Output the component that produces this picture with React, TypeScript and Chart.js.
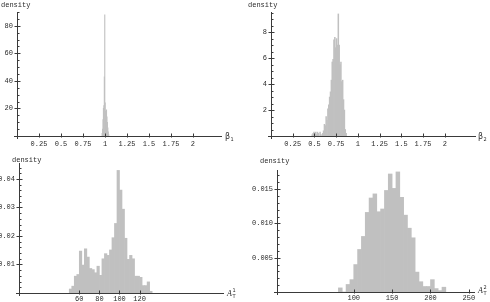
import React, { useEffect, useRef } from "react";
import { Chart, registerables } from "chart.js";

Chart.register(...registerables);

// ---------- Panel 1: beta_1 ----------
const beta1BinCenters = [0.9675, 0.9725, 0.9775, 0.9825, 0.9875, 0.9925, 0.9975, 1.0025, 1.0075, 1.0125, 1.0175, 1.0225, 1.0275, 1.0325, 1.0375, 1.0425];
const beta1Density = [2, 5, 12, 20, 22, 43, 88, 24, 18, 12, 19, 14, 10, 6, 3, 1];
const beta1XTicks = [0.25, 0.5, 0.75, 1, 1.25, 1.5, 1.75, 2];
const beta1XTickLabels = ["0.25", "0.5", "0.75", "1", "1.25", "1.5", "1.75", "2"];
const beta1YTicks = [20, 40, 60, 80];
const beta1YTickLabels = ["20", "40", "60", "80"];

// ---------- Panel 2: beta_2 ----------
const beta2BinCenters = [0.475, 0.485, 0.495, 0.505, 0.515, 0.525, 0.535, 0.545, 0.555, 0.565, 0.575, 0.585, 0.595, 0.605, 0.615, 0.625, 0.635, 0.645, 0.655, 0.665, 0.675, 0.685, 0.695, 0.705, 0.715, 0.725, 0.735, 0.745, 0.755, 0.765, 0.775, 0.785, 0.795, 0.805, 0.815, 0.825, 0.835, 0.845, 0.855, 0.865];
const beta2Density = [0.1, 0.2, 0.3, 0.2, 0.3, 0.1, 0.3, 0.2, 0.0, 0.3, 0.1, 0.0, 0.2, 0.4, 0.9, 0.8, 1.5, 1.2, 2.1, 2.4, 3.0, 3.4, 4.3, 5.7, 5.9, 7.4, 7.6, 6.8, 7.5, 7.0, 9.4, 7.0, 5.5, 5.7, 4.2, 4.3, 2.8, 2.0, 0.5, 0.2];
const beta2XTicks = [0.25, 0.5, 0.75, 1, 1.25, 1.5, 1.75, 2];
const beta2XTickLabels = ["0.25", "0.5", "0.75", "1", "1.25", "1.5", "1.75", "2"];
const beta2YTicks = [2, 4, 6, 8];
const beta2YTickLabels = ["2", "4", "6", "8"];

// ---------- Panel 3: A_T^1 ----------
const a1BinCenters = [51.25, 53.75, 56.25, 58.75, 61.25, 63.75, 66.25, 68.75, 71.25, 73.75, 76.25, 78.75, 81.25, 83.75, 86.25, 88.75, 91.25, 93.75, 96.25, 98.75, 101.25, 103.75, 106.25, 108.75, 111.25, 113.75, 116.25, 118.75, 121.25, 123.75, 126.25, 128.75, 131.25];
const a1Density = [0.0014, 0.0024, 0.0059, 0.0065, 0.0147, 0.0098, 0.0155, 0.0126, 0.0086, 0.0082, 0.0071, 0.0094, 0.0062, 0.012, 0.0138, 0.0132, 0.0151, 0.0194, 0.0244, 0.043, 0.0361, 0.0294, 0.0192, 0.0118, 0.0132, 0.012, 0.0059, 0.0059, 0.0055, 0.0026, 0.0026, 0.0039, 0.0006];
const a1XTicks = [60, 80, 100, 120];
const a1XTickLabels = ["60", "80", "100", "120"];
const a1YTicks = [0.01, 0.02, 0.03, 0.04];
const a1YTickLabels = ["0.01", "0.02", "0.03", "0.04"];

// ---------- Panel 4: A_T^2 ----------
const a2BinCenters = [82.5, 87.5, 92.5, 97.5, 102.5, 107.5, 112.5, 117.5, 122.5, 127.5, 132.5, 137.5, 142.5, 147.5, 152.5, 157.5, 162.5, 167.5, 172.5, 177.5, 182.5, 187.5, 192.5, 197.5, 202.5, 207.5, 212.5, 217.5];
const a2Density = [0.0006, 0, 0.0011, 0.0018, 0.004, 0.0062, 0.0081, 0.0116, 0.0137, 0.0143, 0.0117, 0.0121, 0.0148, 0.0172, 0.0151, 0.0175, 0.0138, 0.0112, 0.0093, 0.0079, 0.0029, 0.0015, 0.0008, 0.0008, 0.0018, 0.0005, 0.0002, 0.0007];
const a2XTicks = [100, 150, 200, 250];
const a2XTickLabels = ["100", "150", "200", "250"];
const a2YTicks = [0.005, 0.01, 0.015];
const a2YTickLabels = ["0.005", "0.010", "0.015"];

const FILL = "#c0c0c0";
const AXIS = "#3a3a3a";
const TEXT = "#2a2a2a";
const MONO = '"Liberation Mono", "DejaVu Sans Mono", monospace';

type Panel = {
  centers: number[];
  values: number[];
  xTicks: number[];
  xLabels: string[];
  yTicks: number[];
  yLabels: string[];
  xMax: number;
  yMax: number;
  yMinor: number;
  xLabelPad: number;
  pos: { left: number; top: number };
  area: { left: number; right: number; top: number; bottom: number };
  density: { x: number; y: number };
  end: { x: number; y: number; main: string; sub: string; sup: string; italic: boolean };
};

const W = 245;
const H = 151;

const panels: Panel[] = [
  {
    centers: beta1BinCenters, values: beta1Density,
    xTicks: beta1XTicks, xLabels: beta1XTickLabels, yTicks: beta1YTicks, yLabels: beta1YTickLabels,
    xMax: 2.33, yMax: 90, yMinor: 5, xLabelPad: 4,
    pos: { left: 0, top: 0 },
    area: { left: 17, right: 222, top: 12, bottom: 136 },
    density: { x: 1, y: 5 },
    end: { x: 225, y: 137, main: "β", sub: "1", sup: "", italic: false },
  },
  {
    centers: beta2BinCenters, values: beta2Density,
    xTicks: beta2XTicks, xLabels: beta2XTickLabels, yTicks: beta2YTicks, yLabels: beta2YTickLabels,
    xMax: 2.36, yMax: 9.55, yMinor: 0.5, xLabelPad: 4,
    pos: { left: 245, top: 0 },
    area: { left: 26, right: 231, top: 12, bottom: 136 },
    density: { x: 3, y: 5 },
    end: { x: 233, y: 137, main: "β", sub: "2", sup: "", italic: false },
  },
  {
    centers: a1BinCenters, values: a1Density,
    xTicks: a1XTicks, xLabels: a1XTickLabels, yTicks: a1YTicks, yLabels: a1YTickLabels,
    xMax: 204, yMax: 0.0456, yMinor: 0.002, xLabelPad: 2,
    pos: { left: 0, top: 151 },
    area: { left: 19, right: 224, top: 12, bottom: 142 },
    density: { x: 12, y: 9 },
    end: { x: 227, y: 143, main: "A", sub: "T", sup: "1", italic: true },
  },
  {
    centers: a2BinCenters, values: a2Density,
    xTicks: a2XTicks, xLabels: a2XTickLabels, yTicks: a2YTicks, yLabels: a2YTickLabels,
    xMax: 258, yMax: 0.01778, yMinor: 0.001, xLabelPad: 2,
    pos: { left: 245, top: 151 },
    area: { left: 32, right: 230, top: 19, bottom: 141 },
    density: { x: 15, y: 10 },
    end: { x: 233, y: 140, main: "A", sub: "T", sup: "2", italic: true },
  },
];

const decorPlugin = {
  id: "decor",
  afterDatasetsDraw(chart: any) {
    const o = chart.options.plugins.decor as Panel;
    if (!o) return;
    const ctx = chart.ctx as CanvasRenderingContext2D;
    const xs = chart.scales.x;
    const ys = chart.scales.y;
    const { left, right, top, bottom } = chart.chartArea;
    const x0 = Math.round(left) + 0.5;
    const y0 = Math.round(bottom) + 0.5;
    ctx.save();
    ctx.strokeStyle = AXIS;
    ctx.lineWidth = 1;
    ctx.beginPath();
    ctx.moveTo(left - 3, y0);
    ctx.lineTo(right, y0);
    ctx.moveTo(x0, bottom + 3);
    ctx.lineTo(x0, top);
    for (const v of o.xTicks) {
      const px = Math.round(xs.getPixelForValue(v)) + 0.5;
      ctx.moveTo(px, y0 + 1);
      ctx.lineTo(px, y0 - 3);
    }
    for (const v of o.yTicks) {
      const py = Math.round(ys.getPixelForValue(v)) + 0.5;
      ctx.moveTo(x0 - 3, py);
      ctx.lineTo(x0 + 3, py);
    }
    const step = o.yMinor;
    for (let k = 1; k * step <= ys.max + step * 1e-6; k++) {
      const v = k * step;
      if (o.yTicks.some((t) => Math.abs(t - v) < step * 1e-3)) continue;
      const py = Math.round(ys.getPixelForValue(v)) + 0.5;
      ctx.moveTo(x0, py);
      ctx.lineTo(x0 + 2, py);
    }
    ctx.stroke();

    ctx.fillStyle = TEXT;
    ctx.textBaseline = "middle";
    ctx.textAlign = "left";
    ctx.font = `7px ${MONO}`;
    ctx.fillText("density", o.density.x, o.density.y);

    const e = o.end;
    ctx.font = e.italic ? 'italic 8px "Liberation Serif", serif' : '8px "DejaVu Sans", sans-serif';
    ctx.fillText(e.main, e.x, e.y);
    const mw = ctx.measureText(e.main).width;
    ctx.font = '5px "DejaVu Sans", sans-serif';
    if (e.sup) ctx.fillText(e.sup, e.x + mw + 0.5, e.y - 3);
    if (e.sub) ctx.fillText(e.sub, e.x + mw + 0.5, e.y + 2.5);
    ctx.restore();
  },
};

function HistPanel({ p }: { p: Panel }) {
  const ref = useRef<HTMLCanvasElement | null>(null);
  useEffect(() => {
    const canvas = ref.current;
    if (!canvas) return;
    const chart = new Chart(canvas, {
      type: "bar",
      data: {
        datasets: [
          {
            data: p.centers.map((c, i) => ({ x: c, y: p.values[i] })),
            backgroundColor: FILL,
            borderWidth: 0,
            barPercentage: 1,
            categoryPercentage: 1,
            grouped: false,
          } as any,
        ],
      },
      options: {
        animation: false,
        responsive: false,
        maintainAspectRatio: false,
        devicePixelRatio: 1,
        events: [],
        layout: {
          padding: { left: 0, top: p.area.top, right: W - p.area.right, bottom: 0 },
        },
        plugins: {
          legend: { display: false },
          tooltip: { enabled: false },
          decor: p as any,
        } as any,
        scales: {
          x: {
            type: "linear",
            min: 0,
            max: p.xMax,
            offset: false,
            grid: { display: false, drawTicks: false },
            border: { display: false },
            afterBuildTicks: (s: any) => {
              s.ticks = p.xTicks.map((v) => ({ value: v }));
            },
            afterFit: (s: any) => {
              s.height = H - p.area.bottom;
            },
            ticks: {
              autoSkip: false,
              maxRotation: 0,
              minRotation: 0,
              padding: p.xLabelPad,
              color: TEXT,
              font: { family: MONO, size: 7 },
              callback: (_v: any, i: number) => p.xLabels[i],
            },
          },
          y: {
            type: "linear",
            min: 0,
            max: p.yMax,
            grid: { display: false, drawTicks: false },
            border: { display: false },
            afterBuildTicks: (s: any) => {
              s.ticks = p.yTicks.map((v) => ({ value: v }));
            },
            afterFit: (s: any) => {
              s.width = p.area.left;
            },
            ticks: {
              autoSkip: false,
              padding: 4,
              color: TEXT,
              font: { family: MONO, size: 7 },
              callback: (_v: any, i: number) => p.yLabels[i],
            },
          },
        },
      } as any,
      plugins: [decorPlugin],
    });
    return () => chart.destroy();
  }, [p]);
  return (
    <canvas
      ref={ref}
      width={W}
      height={H}
      style={{ position: "absolute", left: p.pos.left, top: p.pos.top, width: W, height: H }}
    />
  );
}

export default function App() {
  return (
    <div style={{ position: "absolute", left: 0, top: 0, width: 490, height: 302, background: "#fff", overflow: "hidden" }}>
      {panels.map((p, i) => (
        <HistPanel key={i} p={p} />
      ))}
    </div>
  );
}
